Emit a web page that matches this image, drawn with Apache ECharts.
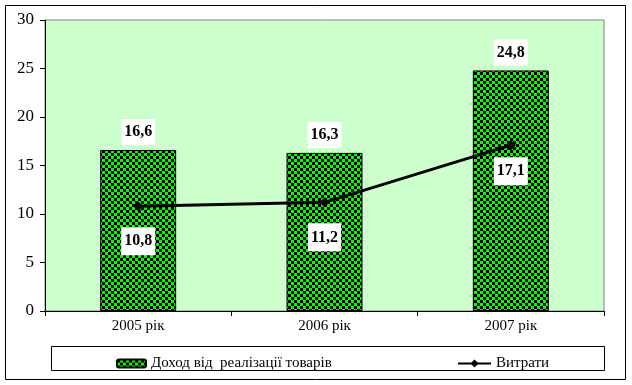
<!DOCTYPE html>
<html><head><meta charset="utf-8">
<script src="https://cdn.jsdelivr.net/npm/echarts@6/dist/echarts.min.js"></script>
<style>html,body{margin:0;padding:0;background:#fff}#c{width:632px;height:385px}</style>
</head><body><div id="c"></div>
<script>
const categories = ['2005 рік', '2006 рік', '2007 рік'];
const income = [16.6, 16.3, 24.8];
const costs = [10.8, 11.2, 17.1];
const yTicks = [0, 5, 10, 15, 20, 25, 30];
const incomeName = 'Доход від  реалізації товарів';
const costsName = 'Витрати';

const costLabelDistance = [16, 16, 7];

function checker() {
  const c = document.createElement('canvas');
  c.width = 6; c.height = 6;
  const g = c.getContext('2d');
  g.fillStyle = '#00ff00'; g.fillRect(0, 0, 6, 6);
  g.fillStyle = '#000000';
  g.fillRect(0, 0, 3, 3); g.fillRect(3, 3, 3, 3);
  return c;
}
const pat = { image: checker(), repeat: 'repeat' };
const FONT = 'Liberation Serif';

const chart = echarts.init(document.getElementById('c'), null, { renderer: 'canvas' });
chart.setOption({
  animation: false,
  textStyle: { fontFamily: FONT },
  grid: { left: 45, top: 20, right: 28, bottom: 74, show: true, backgroundColor: '#ccffcc', borderColor: '#808080', borderWidth: 1 },
  xAxis: {
    type: 'category', data: categories,
    axisLine: { lineStyle: { color: '#000', width: 1 } },
    axisTick: { show: true, length: 5, lineStyle: { color: '#000' } },
    axisLabel: { color: '#000', fontSize: 15, fontFamily: FONT, margin: 8 }
  },
  yAxis: {
    type: 'value', min: yTicks[0], max: yTicks[yTicks.length - 1], interval: yTicks[1] - yTicks[0],
    axisLine: { show: true, lineStyle: { color: '#000', width: 1 } },
    axisTick: { show: true, length: 5, lineStyle: { color: '#000' } },
    splitLine: { show: false },
    axisLabel: { color: '#000', fontSize: 17, fontFamily: FONT, margin: 11 }
  },
  legend: [
    { data: [incomeName], left: 111, top: 351, itemWidth: 29, itemHeight: 8, itemGap: 5,
      textStyle: { fontSize: 15, fontFamily: FONT, color: '#000' } },
    { data: [costsName], left: 452, top: 351, itemWidth: 33, itemHeight: 10,
      textStyle: { fontSize: 15, fontFamily: FONT, color: '#000' } }
  ],
  graphic: [
    { type: 'rect', shape: { x: 5.5, y: 5.5, width: 620, height: 374 }, style: { fill: 'none', stroke: '#000', lineWidth: 1 }, silent: true },
    { type: 'rect', shape: { x: 51.5, y: 346.5, width: 553, height: 24 }, style: { fill: 'none', stroke: '#000', lineWidth: 1 }, silent: true }
  ],
  series: [
    { name: incomeName, type: 'bar', data: income, barWidth: 76,
      itemStyle: { color: pat, borderColor: '#000', borderWidth: 1 },
      label: { show: true, position: 'top', distance: 5, formatter: p => String(p.value).replace('.', ','),
        backgroundColor: '#fff', padding: [5, 3], fontSize: 16, fontWeight: 'bold', fontFamily: FONT, color: '#000' } },
    { name: costsName, type: 'line', z: 5,
      data: costs.map((v, i) => ({ value: v, label: { distance: costLabelDistance[i] } })),
      symbol: 'diamond', symbolSize: 10, showAllSymbol: true,
      lineStyle: { color: '#000', width: 3 }, itemStyle: { color: '#000' },
      label: { show: true, position: 'bottom', formatter: p => String(p.value).replace('.', ','),
        backgroundColor: '#fff', padding: [6, 3], fontSize: 16, fontWeight: 'bold', fontFamily: FONT, color: '#000' } }
  ]
});
</script></body></html>
